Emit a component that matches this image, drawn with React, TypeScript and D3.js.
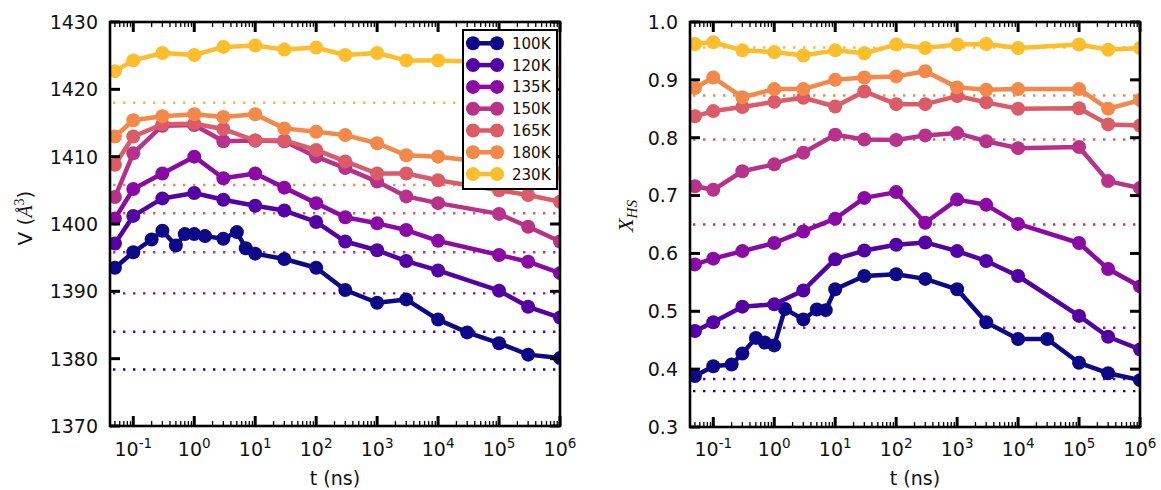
import React from 'react';
import * as d3 from 'd3';

// ---------- DATA ----------
const temps = ['100K', '120K', '135K', '150K', '165K', '180K', '230K'];
// time grids (ns)
const tFine = [0.05, 0.1, 0.2, 0.3, 0.5, 0.7, 1, 1.5, 3, 5, 7, 10, 30, 100, 300, 1000, 3000, 1e4, 3e4, 1e5, 3e5, 1e6];
const tCoarse = [0.05, 0.1, 0.3, 1, 3, 10, 30, 100, 300, 1000, 3000, 1e4, 1e5, 3e5, 1e6];

// Left panel: volume V (Å^3)
const vol100 = [1393.5, 1395.8, 1397.7, 1399.0, 1396.8, 1398.5, 1398.5, 1398.2, 1397.8, 1398.8, 1396.4, 1395.6, 1394.8, 1393.5, 1390.2, 1388.3, 1388.8, 1385.8, 1383.9, 1382.3, 1380.6, 1380.1];
const vol120 = [1397.1, 1401.2, 1403.8, 1404.6, 1403.6, 1402.7, 1402.0, 1400.3, 1397.4, 1396.1, 1394.5, 1393.1, 1390.1, 1387.7, 1386.1];
const vol135 = [1400.8, 1405.2, 1407.5, 1410.0, 1406.8, 1407.5, 1405.4, 1403.1, 1401.0, 1400.1, 1399.1, 1397.5, 1395.4, 1394.4, 1392.7];
const vol150 = [1404.0, 1410.5, 1414.6, 1414.7, 1412.3, 1412.4, 1412.3, 1410.0, 1408.3, 1406.3, 1404.1, 1403.1, 1401.5, 1399.6, 1397.4];
const vol165 = [1408.8, 1413.0, 1414.8, 1414.9, 1414.1, 1412.4, 1412.4, 1411.0, 1409.3, 1407.5, 1407.5, 1406.5, 1405.0, 1404.3, 1403.3];
const vol180 = [1413.0, 1415.4, 1416.0, 1416.3, 1415.9, 1416.3, 1414.2, 1413.7, 1413.2, 1412.0, 1410.2, 1410.0, 1409.0, 1408.3, 1407.5];
const vol230 = [1422.7, 1424.3, 1425.4, 1425.1, 1426.3, 1426.5, 1425.9, 1426.2, 1425.1, 1425.4, 1424.3, 1424.3, 1424.0, 1423.5, 1422.6];
const volRef = [1378.4, 1384.0, 1389.7, 1395.8, 1401.6, 1405.8, 1418.0];

// Right panel: high-spin fraction X_HS
const xhs100 = [0.388, 0.405, 0.408, 0.427, 0.454, 0.446, 0.441, 0.504, 0.486, 0.503, 0.502, 0.538, 0.561, 0.564, 0.556, 0.538, 0.481, 0.452, 0.452, 0.411, 0.393, 0.381];
const xhs120 = [0.466, 0.481, 0.508, 0.512, 0.536, 0.590, 0.605, 0.615, 0.619, 0.604, 0.587, 0.561, 0.492, 0.456, 0.434];
const xhs135 = [0.581, 0.591, 0.604, 0.618, 0.638, 0.660, 0.696, 0.706, 0.653, 0.693, 0.684, 0.651, 0.618, 0.573, 0.543];
const xhs150 = [0.716, 0.710, 0.742, 0.754, 0.774, 0.805, 0.797, 0.796, 0.804, 0.808, 0.794, 0.782, 0.784, 0.725, 0.713];
const xhs165 = [0.837, 0.846, 0.853, 0.862, 0.869, 0.854, 0.880, 0.858, 0.858, 0.872, 0.861, 0.850, 0.851, 0.823, 0.821];
const xhs180 = [0.886, 0.904, 0.870, 0.884, 0.884, 0.900, 0.904, 0.906, 0.915, 0.887, 0.883, 0.884, 0.884, 0.850, 0.865];
const xhs230 = [0.962, 0.965, 0.951, 0.948, 0.942, 0.951, 0.946, 0.961, 0.955, 0.961, 0.962, 0.955, 0.961, 0.952, 0.955];
const xhsRef = [0.362, 0.383, 0.4715, 0.650, 0.797, 0.873, 0.956];

const volTicks = [1370, 1380, 1390, 1400, 1410, 1420, 1430];
const xhsTicks = [0.3, 0.4, 0.5, 0.6, 0.7, 0.8, 0.9, 1.0];
const xExponents = [-1, 0, 1, 2, 3, 4, 5, 6];

const timeGrids = [tFine, tCoarse, tCoarse, tCoarse, tCoarse, tCoarse, tCoarse];
const volSeries = [vol100, vol120, vol135, vol150, vol165, vol180, vol230];
const xhsSeries = [xhs100, xhs120, xhs135, xhs150, xhs165, xhs180, xhs230];

// ---------- STYLE ----------
const W = 1161;
const H = 490;
const colors = temps.map((_, i) => d3.interpolatePlasma(i / 7));
const FONT = "'DejaVu Sans', sans-serif";
const SERIF = "'Liberation Serif', 'DejaVu Serif', serif";
const R = 7;
const LW = 4.5;

type PanelProps = {
  x0: number; x1: number; y0: number; y1: number;
  yDomain: [number, number];
  yTicks: number[];
  yFmt: (v: number) => string;
  series: number[][];
  refs: number[];
  legend?: boolean;
};

function Panel({ x0, x1, y0, y1, yDomain, yTicks, yFmt, series, refs, legend }: PanelProps) {
  const x = d3.scaleLog().domain([0.0415, 1e6]).range([x0, x1]);
  const y = d3.scaleLinear().domain(yDomain).range([y1, y0]);
  const line = d3.line<[number, number]>().x(d => x(d[0])).y(d => y(d[1]));
  const minor: number[] = [];
  for (let e = -2; e <= 5; e++) {
    for (let m = 2; m <= 9; m++) {
      const v = m * Math.pow(10, e);
      if (v >= 0.0415 && v <= 1e6) minor.push(v);
    }
  }
  const majorLen = 10;
  const minorLen = 5;
  const clipId = `clip${x0}`;
  return (
    <g>
      <defs>
        <clipPath id={clipId}>
          <rect x={x0} y={y0} width={x1 - x0} height={y1 - y0} />
        </clipPath>
      </defs>
      <g clipPath={`url(#${clipId})`}>
        {refs.map((r, i) => (
          <line key={'r' + i} x1={x0 + 3} x2={x1} y1={y(r)} y2={y(r)}
            stroke={colors[i]} strokeWidth={2.4} strokeDasharray="2.4 7.6" />
        ))}
        {series.map((s, i) => {
          const pts = timeGrids[i].map((t, j) => [t, s[j]] as [number, number]);
          return (
            <g key={'s' + i}>
              <path d={line(pts) || ''} fill="none" stroke={colors[i]} strokeWidth={LW} strokeLinejoin="round" />
              {pts.map((p, j) => (
                <circle key={j} cx={x(p[0])} cy={y(p[1])} r={R} fill={colors[i]} />
              ))}
            </g>
          );
        })}
      </g>
      {/* minor x ticks */}
      {minor.map((v, i) => (
        <g key={'m' + i} stroke="#000" strokeWidth={1.3}>
          <line x1={x(v)} x2={x(v)} y1={y1} y2={y1 - minorLen} />
          <line x1={x(v)} x2={x(v)} y1={y0} y2={y0 + minorLen} />
        </g>
      ))}
      {/* major x ticks */}
      {xExponents.map(e => {
        const px = x(Math.pow(10, e));
        return (
          <g key={'x' + e}>
            <line x1={px} x2={px} y1={y1} y2={y1 - majorLen} stroke="#000" strokeWidth={3} />
            <line x1={px} x2={px} y1={y0} y2={y0 + majorLen} stroke="#000" strokeWidth={3} />
            <text x={px} y={456} textAnchor="middle" fontFamily={FONT} fontSize={19} fill="#111">
              10<tspan fontSize={13.5} dy={-8}>{e < 0 ? '-' + Math.abs(e) : String(e)}</tspan>
            </text>
          </g>
        );
      })}
      {/* y ticks */}
      {yTicks.map(v => (
        <g key={'y' + v}>
          <line x1={x0} x2={x0 + majorLen} y1={y(v)} y2={y(v)} stroke="#000" strokeWidth={3} />
          <line x1={x1} x2={x1 - majorLen} y1={y(v)} y2={y(v)} stroke="#000" strokeWidth={3} />
          <text x={x0 - 12} y={y(v)} dy="0.36em" textAnchor="end" fontFamily={FONT} fontSize={19} fill="#111">
            {yFmt(v)}
          </text>
        </g>
      ))}
      <rect x={x0} y={y0} width={x1 - x0} height={y1 - y0} fill="none" stroke="#000" strokeWidth={2.6} />
      <text x={(x0 + x1) / 2} y={485} textAnchor="middle" fontFamily={FONT} fontSize={19} fill="#111">t (ns)</text>
      {legend && (
        <g>
          <rect x={463} y={30} width={94} height={159} fill="#fff" stroke="#000" strokeWidth={2} />
          {temps.map((t, i) => {
            const ly = 43.3 + i * 21.8;
            return (
              <g key={'l' + i}>
                <line x1={473} x2={497} y1={ly} y2={ly} stroke={colors[i]} strokeWidth={LW} />
                <circle cx={473} cy={ly} r={R} fill={colors[i]} />
                <circle cx={497} cy={ly} r={R} fill={colors[i]} />
                <text x={512} y={ly} dy="0.36em" fontFamily={FONT} fontSize={15} fill="#111">{t}</text>
              </g>
            );
          })}
        </g>
      )}
    </g>
  );
}

export default function App() {
  return (
    <svg width={W} height={H} style={{ position: 'absolute', left: 0, top: 0, background: '#fff' }}>
      <rect x={0} y={0} width={W} height={H} fill="#fff" />
      <Panel x0={110} x1={560} y0={22} y1={426} yDomain={[1370, 1430]} yTicks={volTicks}
        yFmt={v => String(v)} series={volSeries} refs={volRef} legend />
      <Panel x0={690} x1={1140} y0={22} y1={427} yDomain={[0.3, 1.0]} yTicks={xhsTicks}
        yFmt={v => d3.format('.1f')(v)} series={xhsSeries} refs={xhsRef} />
      <text transform="translate(32,218) rotate(-90)" textAnchor="middle" fontFamily={FONT} fontSize={20} fill="#111">
        V (<tspan fontFamily={SERIF} fontStyle="italic">Å</tspan><tspan fontFamily={SERIF} fontSize={14} dy={-8}>3</tspan><tspan dy={8}>)</tspan>
      </text>
      <text transform="translate(633,216) rotate(-90)" textAnchor="middle" fontFamily={SERIF} fontStyle="italic" fontSize={22} fill="#111">
        X<tspan fontSize={15} dy={4}>HS</tspan>
      </text>
    </svg>
  );
}
